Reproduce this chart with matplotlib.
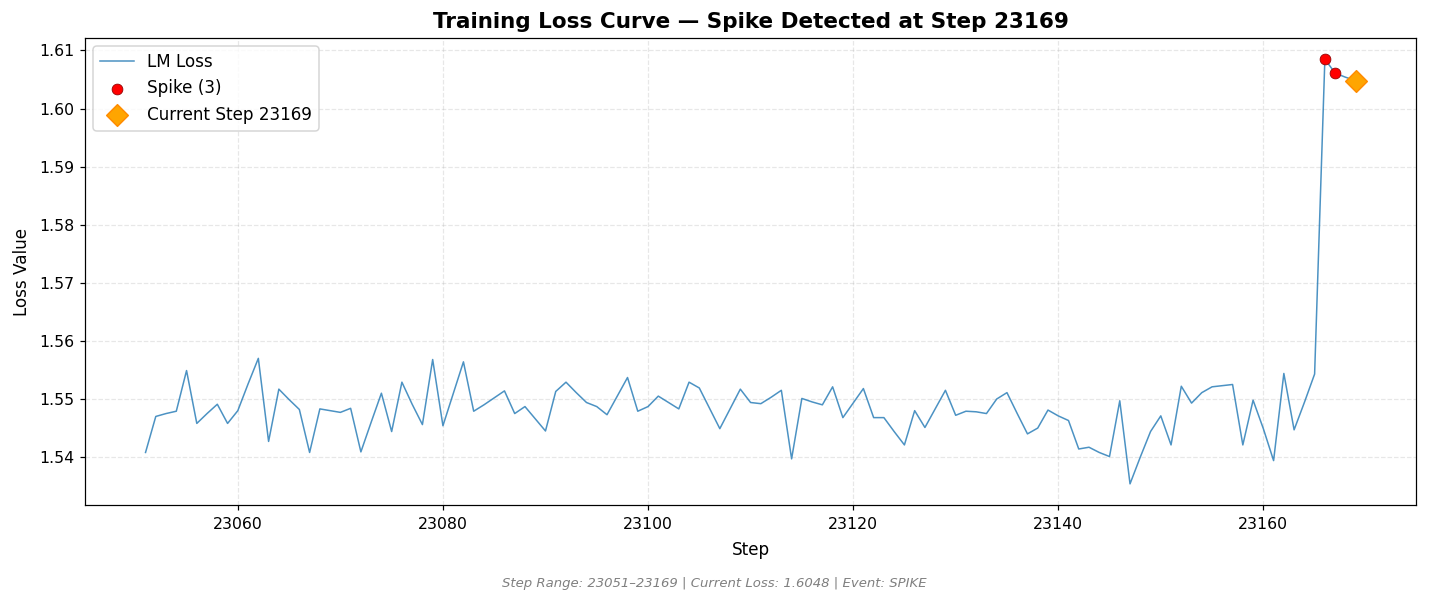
import matplotlib
matplotlib.use("Agg")
import matplotlib.pyplot as plt
import numpy as np

# pas d'entrainement et valeurs de loss
first_step = 23051
loss = [
    1.5408, 1.5470, 1.5475, 1.5479, 1.5549, 1.5458, 1.5475, 1.5491, 1.5458, 1.5480,
    1.5526, 1.5570, 1.5427, 1.5517, 1.5499, 1.5482, 1.5408, 1.5483, 1.5480, 1.5477,
    1.5484, 1.5409, 1.5460, 1.5510, 1.5444, 1.5529, 1.5491, 1.5456, 1.5568, 1.5454,
    1.5509, 1.5564, 1.5479, 1.5490, 1.5502, 1.5514, 1.5475, 1.5487, 1.5466, 1.5445,
    1.5513, 1.5529, 1.5511, 1.5494, 1.5487, 1.5473, 1.5505, 1.5537, 1.5479, 1.5487,
    1.5505, 1.5494, 1.5483, 1.5529, 1.5519, 1.5484, 1.5449, 1.5483, 1.5517, 1.5494,
    1.5492, 1.5503, 1.5515, 1.5397, 1.5501, 1.5495, 1.5490, 1.5521, 1.5468, 1.5493,
    1.5518, 1.5468, 1.5468, 1.5444, 1.5421, 1.5480, 1.5451, 1.5483, 1.5515, 1.5472,
    1.5479, 1.5478, 1.5475, 1.5500, 1.5511, 1.5475, 1.5440, 1.5450, 1.5481, 1.5471,
    1.5463, 1.5414, 1.5417, 1.5408, 1.5401, 1.5497, 1.5354, 1.5400, 1.5444, 1.5471,
    1.5421, 1.5522, 1.5493, 1.5511, 1.5521, 1.5523, 1.5525, 1.5421, 1.5498, 1.5449,
    1.5394, 1.5544, 1.5447, 1.5494, 1.5543, 1.6085, 1.6061, 1.6054, 1.6048,
]
steps = list(range(first_step, first_step + len(loss)))
spike_steps = [23166, 23167, 23169]
current_step = 23169
current_loss = 1.6048


def plot_loss():
    dpi = 110
    fig = plt.figure(figsize=(1429 / dpi, 602 / dpi), dpi=dpi)
    ax = fig.add_axes([0.0595, 0.161, 0.9315, 0.776])

    ax.plot(steps, loss, color="#1f77b4", linewidth=1, alpha=0.8, label="LM Loss")

    spike_loss = [loss[steps.index(s)] for s in spike_steps]
    ax.scatter(spike_steps, spike_loss, color="red", edgecolors="darkred",
               linewidths=0.5, s=50, zorder=5, label=f"Spike ({len(spike_steps)})")
    ax.scatter([current_step], [current_loss], color="orange", edgecolors="darkorange",
               marker="D", s=100, zorder=6, label=f"Current Step {current_step}")

    ax.set_title(f"Training Loss Curve \u2014 Spike Detected at Step {current_step}",
                 fontsize=14.1, fontweight="bold", pad=6.5)
    ax.set_xlabel("Step", fontsize=11, labelpad=6)
    ax.set_ylabel("Loss Value", fontsize=11, labelpad=5.5)
    ax.grid(True, linestyle="--", alpha=0.3)
    ax.tick_params(labelsize=10.3)
    ax.tick_params(axis="x", pad=4.5)
    ax.legend(loc="upper left", fontsize=11)

    fig.text(0.5, 19 / 602,
             f"Step Range: {steps[0]}\u2013{steps[-1]} | Current Loss: {current_loss:.4f} | Event: SPIKE",
             ha="center", va="center", fontsize=8.7, style="italic", color="gray")

    fig.savefig("out.png", dpi=dpi)


if __name__ == "__main__":
    plot_loss()
